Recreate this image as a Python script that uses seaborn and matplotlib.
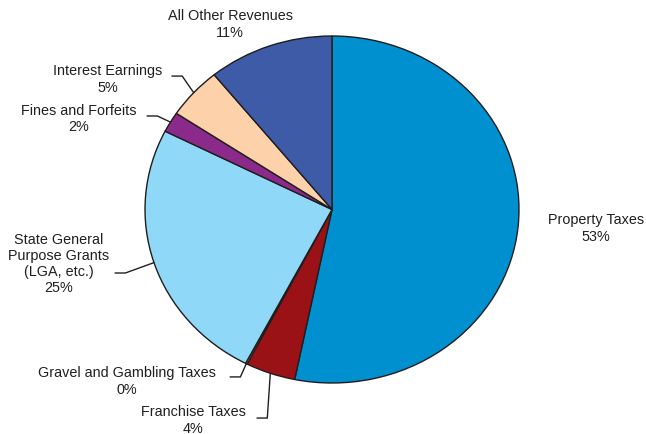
import numpy as np
import matplotlib
matplotlib.use("Agg")
import matplotlib.pyplot as plt
import seaborn as sns

categories = ["Property Taxes", "Franchise Taxes", "Gravel and Gambling Taxes",
              "State General\nPurpose Grants\n(LGA, etc.)", "Fines and Forfeits",
              "Interest Earnings", "All Other Revenues"]
values = [53.2, 4.3, 0.15, 24.8, 1.9, 4.8, 10.85]
colors = ["#0090D0", "#9A1116", "#E8C33A", "#90D8F7", "#8C2A8B", "#FDD2AA", "#3E5BA8"]

# label text centres (axes data units) and whether a leader line is drawn
label_pos = [(1.412, -0.104), (-0.743, -1.210), (-1.096, -0.986), (-1.460, -0.308),
             (-1.353, 0.527), (-1.198, 0.755), (-0.545, 1.072)]
leader_start = [None, (-0.401, -1.202), (-0.545, -0.965), (-1.160, -0.366),
                (-0.989, 0.539), (-0.856, 0.769), None]
elbow_len = 0.055

sns.set_theme(style="white")
plt.rcParams["font.family"] = ["Liberation Sans", "DejaVu Sans"]

fig = plt.figure(figsize=(6.46, 4.35), dpi=100)
W, H = 646, 435
left, right, top, bottom = 145, 519, 37, 384
ax = fig.add_axes([left / W, (H - bottom) / H, (right - left) / W, (bottom - top) / H])

wedges, _ = ax.pie(values, colors=colors, startangle=90, counterclock=False,
                   wedgeprops=dict(edgecolor="#1E1E1E", linewidth=1.0))
ax.set_aspect("auto")
ax.set_xlim(-1, 1)
ax.set_ylim(-1, 1)
ax.axis("off")

txtc = "#231F20"
for w, cat, v, pos, ls in zip(wedges, categories, values, label_pos, leader_start):
    ax.text(pos[0], pos[1], f"{cat}\n{round(v):d}%", ha="center", va="center",
            fontsize=10.4, color=txtc, linespacing=1.2)
    if ls is not None:
        mid = np.deg2rad((w.theta1 + w.theta2) / 2)
        ex, ey = np.cos(mid), np.sin(mid)
        ax.plot([ls[0], ls[0] + elbow_len, ex], [ls[1], ls[1], ey],
                color="#231F20", lw=1.0, clip_on=False, solid_joinstyle="miter")

fig.savefig("out.png", dpi=100)
